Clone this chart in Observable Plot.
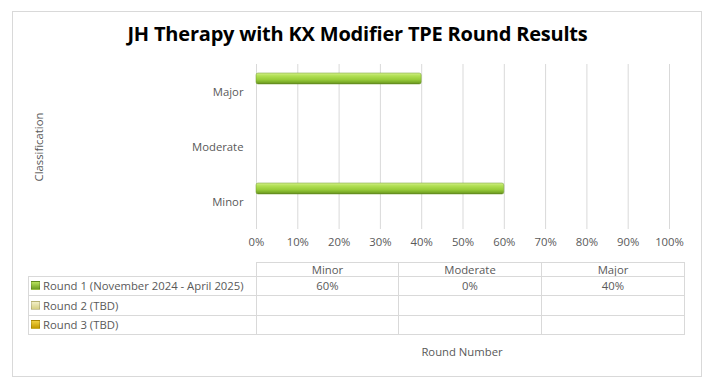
<!DOCTYPE html>
<html>
<head>
<meta charset="utf-8">
<script src="https://cdn.jsdelivr.net/npm/d3@7"></script>
<script src="https://cdn.jsdelivr.net/npm/@observablehq/plot@0.6"></script>
<style>
  html, body { margin: 0; padding: 0; background: #fff; }
  body { width: 715px; height: 389px; position: relative; overflow: hidden; font-family: "Open Sans", sans-serif; }
  #frame { position: absolute; left: 12px; top: 11px; width: 690px; height: 366px; border: 1px solid #d9d9d9; box-sizing: border-box; }
  #title { position: absolute; left: 0; width: 715px; top: 20px; text-align: center; font: 700 20px "Open Sans", sans-serif; color: #000; letter-spacing: -0.2px; }
  #chart { position: absolute; left: 0; top: 0; }
  #tbl { position: absolute; left: 28px; top: 262px; border-collapse: collapse; font: 11.3px "Open Sans", sans-serif; color: #595959; table-layout: fixed; }
  #tbl td { border: 1px solid #d9d9d9; padding: 0; text-align: center; white-space: nowrap; overflow: hidden; line-height: 12px; }
  #tbl td.lab { text-align: left; padding-left: 2px; }
  #tbl td.blank { border: none; }
  .key { display: inline-block; width: 7px; height: 7px; margin-right: 3px; vertical-align: 0px; border: 0.5px solid rgba(0,0,0,0.15); }
  #xlabel { position: absolute; top: 344px; left: 400px; width: 124px; text-align: center; font: 11.3px "Open Sans", sans-serif; color: #595959; }
</style>
</head>
<body>
<svg width="0" height="0" style="position:absolute">
  <defs>
    <linearGradient id="barGreen" x1="0" y1="0" x2="0" y2="1">
      <stop offset="0" stop-color="#d4f08c"/>
      <stop offset="0.25" stop-color="#b2e055"/>
      <stop offset="0.6" stop-color="#98cc3a"/>
      <stop offset="0.85" stop-color="#7aab28"/>
      <stop offset="1" stop-color="#5a7f1a"/>
    </linearGradient>
  </defs>
</svg>
<div id="frame"></div>
<div id="title"></div>
<div id="chart"></div>
<table id="tbl"></table>
<div id="xlabel"></div>
<script>
// ---- data ----
const titleText = "JH Therapy with KX Modifier TPE Round Results";
const categories = ["Minor", "Moderate", "Major"];
const rounds = ["Round 1 (November 2024 - April 2025)", "Round 2 (TBD)", "Round 3 (TBD)"];
const round1Values = [0.60, 0.00, 0.40];
const round2Values = [null, null, null];
const round3Values = [null, null, null];
const xTicks = [0, 0.1, 0.2, 0.3, 0.4, 0.5, 0.6, 0.7, 0.8, 0.9, 1.0];
const yAxisLabel = "Classification";
const xAxisLabel = "Round Number";
const roundColors = ["url(#barGreen)", "#e6e2a6", "#dcb415"];
const keyColors = ["linear-gradient(#b8e35c,#6e9e22)", "linear-gradient(#f2efc6,#d6cf84)", "linear-gradient(#f0d040,#c49a00)"];

const seriesValues = [round1Values, round2Values, round3Values];
const data = [];
rounds.forEach((r, i) => categories.forEach((c, j) => {
  const v = seriesValues[i][j];
  if (v != null) data.push({round: r, category: c, value: v, ri: i});
}));

document.getElementById("title").textContent = titleText;
document.getElementById("xlabel").textContent = xAxisLabel;

const plot = Plot.plot({
  width: 715,
  height: 256,
  marginLeft: 256,
  marginRight: 46,
  marginTop: 63,
  marginBottom: 26,
  style: {fontFamily: "Open Sans, sans-serif", fontSize: "11.3px", color: "#595959", background: "transparent"},
  x: {domain: [0, 1], ticks: xTicks, tickFormat: d3.format(".0%")},
  fy: {domain: [...categories].reverse(), padding: 0},
  y: {domain: rounds, paddingInner: 0.143, paddingOuter: 0.55, axis: null},
  marks: [
    Plot.gridX(xTicks, {stroke: "#d9d9d9", strokeOpacity: 1, strokeWidth: 1}),
    Plot.barX(data, {
      x: "value", y: "round", fy: "category",
      fill: d => roundColors[d.ri],
      stroke: "#6f9a2a", strokeWidth: 0.5, rx: 2
    }),
    Plot.axisX({ticks: xTicks, tickFormat: d3.format(".0%"), tickSize: 0, tickPadding: 8, label: null, fill: "#595959"}),
    Plot.axisFy({anchor: "left", tickSize: 0, tickPadding: 13, label: yAxisLabel, labelAnchor: "center", labelOffset: 222, fill: "#595959"})
  ]
});
document.getElementById("chart").appendChild(plot);

// ---- data table ----
const tbl = document.getElementById("tbl");
const colWidths = [228, 142, 143, 143];
const cg = document.createElement("colgroup");
colWidths.forEach(w => { const col = document.createElement("col"); col.style.width = w + "px"; cg.appendChild(col); });
tbl.appendChild(cg);
tbl.style.width = colWidths.reduce((a, b) => a + b, 0) + "px";
const hr = document.createElement("tr");
hr.style.height = "14px";
const blank = document.createElement("td"); blank.className = "blank"; hr.appendChild(blank);
categories.forEach(c => { const td = document.createElement("td"); td.textContent = c; hr.appendChild(td); });
tbl.appendChild(hr);
const rowHeights = [19, 20, 19];
rounds.forEach((r, i) => {
  const tr = document.createElement("tr");
  tr.style.height = rowHeights[i] + "px";
  const lab = document.createElement("td"); lab.className = "lab";
  const key = document.createElement("span"); key.className = "key"; key.style.background = keyColors[i];
  lab.appendChild(key); lab.appendChild(document.createTextNode(r));
  tr.appendChild(lab);
  categories.forEach((c, j) => {
    const td = document.createElement("td");
    const v = seriesValues[i][j];
    td.textContent = v == null ? "" : d3.format(".0%")(v);
    tr.appendChild(td);
  });
  tbl.appendChild(tr);
});
</script>
</body>
</html>
